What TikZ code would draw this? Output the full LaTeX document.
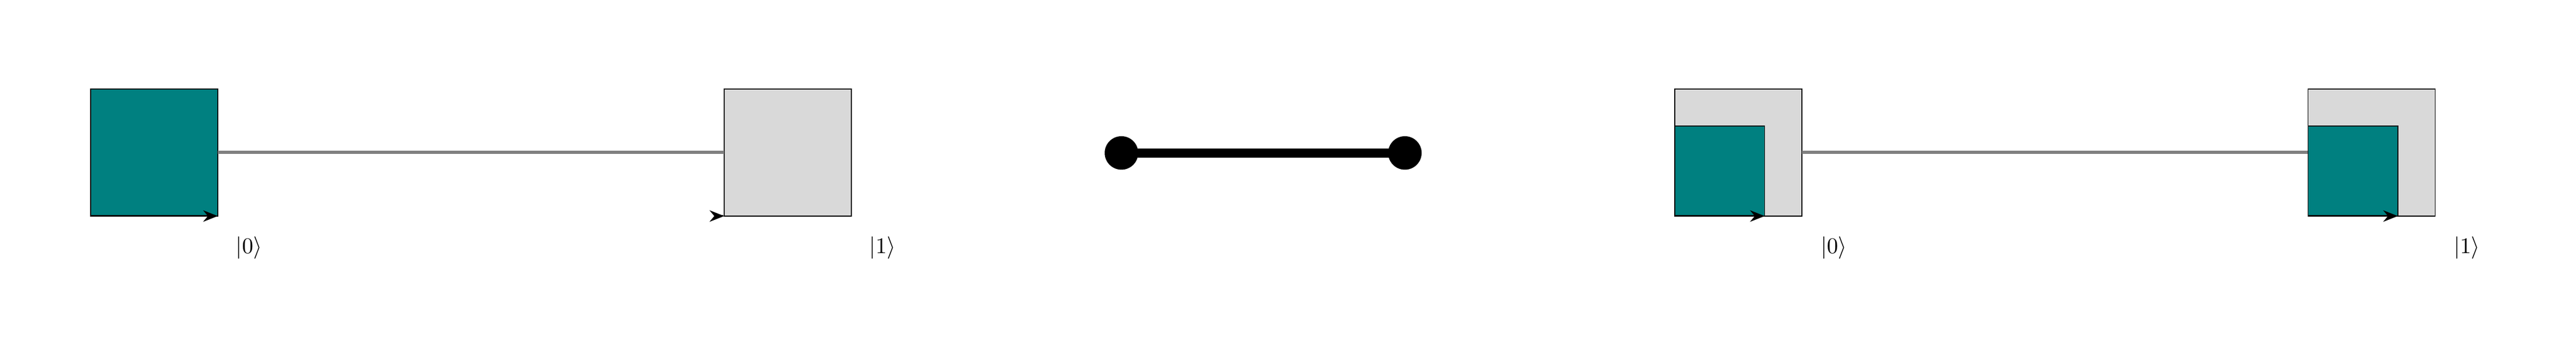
\documentclass[tikz,border=0pt]{standalone}
\usetikzlibrary{arrows.meta,calc}
\begin{document}
\begin{tikzpicture}[
  box/.style={draw=black, line width=0.4pt, minimum size=2cm, inner sep=0pt, outer sep=0pt},
  full/.style={box, fill=teal},
  emptybox/.style={box, fill=gray!30},
  halfbox/.style={draw=black, line width=0.4pt, fill=teal, minimum size=1.414cm, inner sep=0pt, outer sep=0pt},
  link/.style={draw=gray, line width=1.4pt},
  vec/.style={-{Stealth[length=2.3mm,width=1.8mm]}, line width=0.7pt},
  dot/.style={circle, fill=black, minimum size=0.527cm, inner sep=0pt},
  bar/.style={line width=4pt},
  lab/.style={inner sep=1pt}
]
\useasboundingbox (0,0) rectangle (40.523,5.586);
% left pair
\node[full, anchor=south west] (a) at (1.426,2.186) {};
\node[emptybox, anchor=south west] (b) at (11.392,2.186) {};
\draw[link] (a.east) -- (b.west);
\draw[vec] (a.south west) -- (a.south east);
\coordinate (bt) at ($(b.south west)+(-0.02,0)$);
\draw[vec] (bt) -- (b.south west);
\node[lab] (la) at ($(a.south east)+(0.49,-0.5)$) {$|0\rangle$};
\node[lab] (lb) at ($(b.south east)+(0.49,-0.5)$) {$|1\rangle$};
% middle
\node[dot] (p) at (17.641,3.179) {};
\node[dot] (q) at (22.100,3.179) {};
\draw[bar] (p.center) -- (q.center);
% right pair
\node[emptybox, anchor=south west] (c) at (26.346,2.186) {};
\node[halfbox, anchor=south west] (ci) at (c.south west) {};
\node[emptybox, anchor=south west] (d) at (36.306,2.186) {};
\node[halfbox, anchor=south west] (di) at (d.south west) {};
\draw[link] (c.east) -- (d.west);
\draw[vec] (ci.south west) -- (ci.south east);
\draw[vec] (di.south west) -- (di.south east);
\node[lab] (lc) at ($(c.south east)+(0.5,-0.5)$) {$|0\rangle$};
\node[lab] (ld) at ($(d.south east)+(0.5,-0.5)$) {$|1\rangle$};
\end{tikzpicture}
\end{document}
